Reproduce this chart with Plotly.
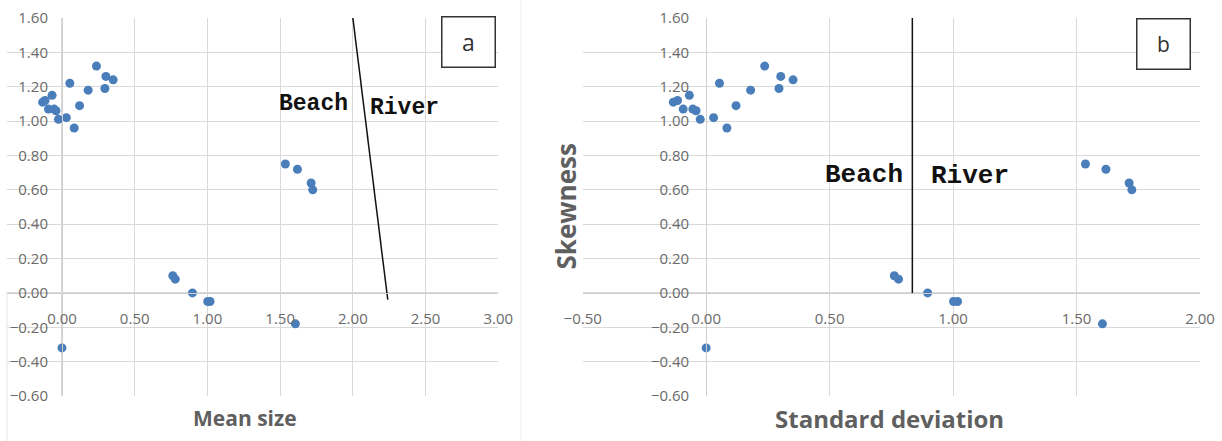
import plotly.graph_objects as go

# ---- data ----
x_vals = [-0.133, -0.116, -0.068, -0.093, -0.054, -0.041, -0.024, 0.030, 0.084,
          0.054, 0.121, 0.180, 0.237, 0.295, 0.302, 0.352,
          0.762, 0.779, 0.897, 1.002, 1.018,
          1.536, 1.619, 1.713, 1.724, 1.605, 0.000]
y_vals = [1.11, 1.12, 1.15, 1.07, 1.07, 1.06, 1.01, 1.02, 0.96,
          1.22, 1.09, 1.18, 1.32, 1.19, 1.26, 1.24,
          0.10, 0.08, 0.00, -0.05, -0.05,
          0.75, 0.72, 0.64, 0.60, -0.18, -0.32]

divider_a_x = [2.00, 2.24]
divider_a_y = [1.60, -0.04]
divider_b_x = [0.835, 0.835]
divider_b_y = [1.60, 0.00]

xrange_a = [-0.378, 3.0]
xrange_b = [-0.5, 2.0]
yrange = [-0.6, 1.6]

W, H = 1222, 441
dom_a = [7 / W, 498.3 / W]
dom_b = [582.7 / W, 1200 / W]
dom_y = [1 - 396 / H, 1 - 18 / H]


def frac(v, rng, dom):
    return dom[0] + (v - rng[0]) / (rng[1] - rng[0]) * (dom[1] - dom[0])


marker_color = "#4a7ebb"
grid = "#d9d9d9"
tick_font = dict(family="Open Sans", size=15, color="#6a6a6a")
title_font_color = "#5f5f5f"

fig = go.Figure()
fig.add_trace(go.Scatter(x=x_vals, y=y_vals, mode="markers", xaxis="x", yaxis="y",
                         marker=dict(size=9, color=marker_color), showlegend=False))
fig.add_trace(go.Scatter(x=x_vals, y=y_vals, mode="markers", xaxis="x2", yaxis="y2",
                         marker=dict(size=9, color=marker_color), showlegend=False))
fig.add_trace(go.Scatter(x=divider_a_x, y=divider_a_y, mode="lines", xaxis="x", yaxis="y",
                         line=dict(color="#111111", width=1.5), showlegend=False))
fig.add_trace(go.Scatter(x=divider_b_x, y=divider_b_y, mode="lines", xaxis="x2", yaxis="y2",
                         line=dict(color="#111111", width=1.5), showlegend=False))

common_x = dict(dtick=0.5, tick0=0, tickformat=".2f", showgrid=True, gridcolor=grid,
                zeroline=False, showline=True, linecolor="#cfcfcf", ticks="",
                tickfont=tick_font, ticklabelstandoff=12, anchor="free", automargin=False)
common_y = dict(range=yrange, domain=dom_y, dtick=0.2, tick0=-0.6, tickformat=".2f",
                showgrid=True, gridcolor=grid, zeroline=False, showline=True,
                linecolor="#cfcfcf", ticks="", tickfont=tick_font, anchor="free",
                automargin=False)

fig.update_layout(
    width=W, height=H, autosize=False,
    margin=dict(l=0, r=0, t=0, b=0, pad=0, autoexpand=False),
    paper_bgcolor="white", plot_bgcolor="white",
    xaxis=dict(common_x, range=xrange_a, domain=dom_a,
               position=frac(0, yrange, dom_y)),
    yaxis=dict(common_y, position=frac(0, xrange_a, dom_a), ticklabelstandoff=11),
    xaxis2=dict(common_x, range=xrange_b, domain=dom_b,
                position=frac(0, yrange, dom_y)),
    yaxis2=dict(common_y, position=frac(0, xrange_b, dom_b), ticklabelstandoff=14),
)

mono = dict(family="Liberation Mono", color="#111111")
ctr = dict(showarrow=False, xanchor="center", yanchor="middle")
annotations = [
    dict(ctr, text="<b>Beach</b>", x=1.727, y=1.10, xref="x", yref="y",
         font=dict(mono, size=23)),
    dict(ctr, text="<b>River</b>", x=2.354, y=1.075, xref="x", yref="y",
         font=dict(mono, size=23)),
    dict(ctr, text="<b>Beach</b>", x=0.640, y=0.685, xref="x2", yref="y2",
         font=dict(mono, size=26)),
    dict(ctr, text="<b>River</b>", x=1.068, y=0.68, xref="x2", yref="y2",
         font=dict(mono, size=26)),
    dict(ctr, text="a", x=468.4 / W, y=1 - 42.5 / H, xref="paper", yref="paper",
         width=52, height=49, borderpad=0, bordercolor="#333333",
         borderwidth=1.5, bgcolor="white", font=dict(family="Open Sans", size=23, color="#333333")),
    dict(ctr, text="b", x=1163 / W, y=1 - 44 / H, xref="paper", yref="paper",
         width=52, height=49, borderpad=0, bordercolor="#333333",
         borderwidth=1.5, bgcolor="white", font=dict(family="Open Sans", size=21, color="#333333")),
    dict(ctr, text="<b>Mean size</b>", x=245 / W, y=1 - 418 / H, xref="paper", yref="paper",
         font=dict(family="Open Sans", size=21, color=title_font_color)),
    dict(ctr, text="<b>Standard deviation</b>", x=889.5 / W, y=1 - 418 / H, xref="paper",
         yref="paper", font=dict(family="Open Sans", size=24, color=title_font_color)),
    dict(ctr, text="<b>Skewness</b>", x=565 / W, y=1 - 206.5 / H, xref="paper", yref="paper",
         textangle=-90, font=dict(family="Open Sans", size=26, color=title_font_color)),
]
fig.update_layout(annotations=annotations)

# faint outer chart frames
fig.add_shape(type="line", xref="paper", yref="paper", x0=7 / W, x1=7 / W,
              y0=0, y1=frac(0, yrange, dom_y), line=dict(color="#e6e6e6", width=1))
fig.add_shape(type="line", xref="paper", yref="paper", x0=521 / W, x1=521 / W,
              y0=0, y1=1, line=dict(color="#eeeeee", width=1))

fig.write_html("out.html", config={"displayModeBar": False},
               post_script="document.body.style.margin='0px';"
                           "document.body.style.padding='0px';")
